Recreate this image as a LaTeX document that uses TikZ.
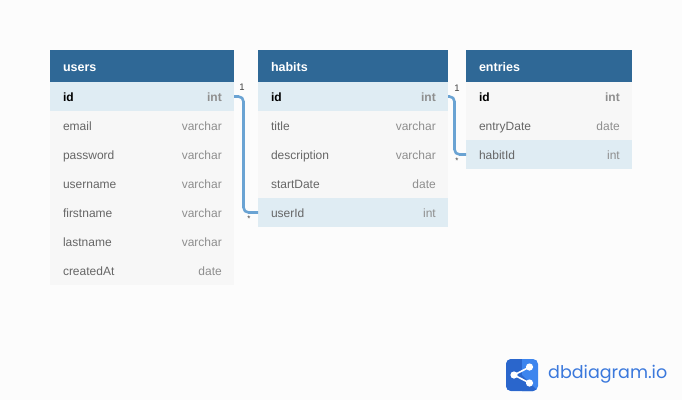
\documentclass[tikz,border=0pt]{standalone}
\usepackage{fontspec}
\setmainfont{Liberation Sans}
\newfontfamily\logofont{Poppins}
\usetikzlibrary{positioning}
\definecolor{pagebg}{HTML}{FCFCFC}
\definecolor{headblue}{HTML}{2F6896}
\definecolor{rowgray}{HTML}{F7F7F7}
\definecolor{rowblue}{HTML}{DFECF3}
\definecolor{linkblue}{HTML}{6AA3D3}
\definecolor{namegray}{HTML}{666666}
\definecolor{typegray}{HTML}{8E8E8E}
\definecolor{logodark}{HTML}{2A66CC}
\definecolor{logolight}{HTML}{3D85EE}
\definecolor{logotext}{HTML}{3A78DC}
\tikzset{
  tablehead/.style={ % dark title bar of a table
    rectangle, fill=headblue, text=white, anchor=north west, outer sep=0pt,
    minimum height=32pt, inner xsep=13pt, inner ysep=0pt,
    text height=11pt, text depth=0pt, align=left,
    font=\fontsize{12.5}{14}\selectfont\bfseries
  },
  fieldrow/.style={ % one column of a table
    rectangle, fill=rowgray, text=namegray, anchor=north west, outer sep=0pt,
    minimum height=29pt, inner xsep=13pt, inner ysep=0pt,
    text height=10.5pt, text depth=0pt,
    font=\fontsize{12}{14}\selectfont
  },
  keyrow/.style={fieldrow, fill=rowblue},
  pkname/.style={text=black, font=\fontsize{12}{14}\selectfont\bfseries},
  typetext/.style={
    anchor=east, inner sep=0pt, text=typegray, text height=10.5pt, text depth=0pt,
    font=\fontsize{12}{14}\selectfont
  },
  reflink/.style={draw=linkblue, line width=2.6pt, rounded corners=5pt},
  cardtext/.style={inner sep=0pt, text=black!75, font=\fontsize{9.5}{10}\selectfont}
}
% name of the row, text style, field, type
\newcommand{\tablerow}[5]{
  \node[#3, minimum width=\tablewd, text width=\tablewd-26pt, below=0pt of #2.south west, anchor=north west] (#1) {#4};
  \node[typetext] (#1 type) at ([xshift=-12pt]#1.east) {#5};
}
\newlength{\tablewd}
\begin{document}
\begin{tikzpicture}[x=1pt,y=-1pt]
  \fill[pagebg] (0,0) rectangle (682,400);
  \useasboundingbox (0,0) rectangle (682,400);

  % users
  \setlength{\tablewd}{184pt}
  \node[tablehead, minimum width=\tablewd, text width=\tablewd-26pt] (users) at (50,50) {users};
  \tablerow{users id}{users}{keyrow,pkname}{id}{\bfseries int}
  \tablerow{users email}{users id}{fieldrow}{email}{varchar}
  \tablerow{users password}{users email}{fieldrow}{password}{varchar}
  \tablerow{users username}{users password}{fieldrow}{username}{varchar}
  \tablerow{users firstname}{users username}{fieldrow}{firstname}{varchar}
  \tablerow{users lastname}{users firstname}{fieldrow}{lastname}{varchar}
  \tablerow{users createdAt}{users lastname}{fieldrow}{createdAt}{date}

  % habits
  \setlength{\tablewd}{190pt}
  \node[tablehead, minimum width=\tablewd, text width=\tablewd-26pt] (habits) at (258,50) {habits};
  \tablerow{habits id}{habits}{keyrow,pkname}{id}{\bfseries int}
  \tablerow{habits title}{habits id}{fieldrow}{title}{varchar}
  \tablerow{habits description}{habits title}{fieldrow}{description}{varchar}
  \tablerow{habits startDate}{habits description}{fieldrow}{startDate}{date}
  \tablerow{habits userId}{habits startDate}{keyrow}{userId}{int}

  % entries
  \setlength{\tablewd}{166pt}
  \node[tablehead, minimum width=\tablewd, text width=\tablewd-26pt] (entries) at (466,50) {entries};
  \tablerow{entries id}{entries}{fieldrow,pkname}{id}{\bfseries int}
  \tablerow{entries entryDate}{entries id}{fieldrow}{entryDate}{date}
  \tablerow{entries habitId}{entries entryDate}{keyrow}{habitId}{int}

  % references
  \draw[reflink] (users id.east) -- ++(9.5,0) |- (habits userId.west);
  \draw[reflink] (habits id.east) -- ++(6.5,0) |- (entries habitId.west);
  \node[cardtext] (users one) at (242,87.5) {1};
  \node[cardtext, font=\fontsize{8}{9}\selectfont] (users many) at (249,219) {*};
  \node[cardtext] (habits one) at (457,88) {1};
  \node[cardtext, font=\fontsize{8}{9}\selectfont] (habits many) at (457,161) {*};

  % logo
  \fill[logolight, rounded corners=5pt] (506,359) rectangle (538,391);
  \begin{scope}
    \clip[rounded corners=5pt] (506,359) rectangle (538,391);
    \fill[logodark] (506,359) rectangle (522,391);
    \fill[logodark] (522,375) -- (538,391) -- (522,391) -- cycle;
  \end{scope}
  \draw[white, line width=1.6pt] (529.5,367) -- (514,375) -- (529.5,383);
  \fill[white] (514,375) circle (3.6pt) (529.5,367) circle (3.6pt) (529.5,383) circle (3.6pt);
  \node[anchor=west, inner sep=0pt, text=logotext, font=\logofont\fontsize{17.5}{20}\selectfont] (logo) at (548,374.5) {dbdiagram.io};
\end{tikzpicture}
\end{document}
